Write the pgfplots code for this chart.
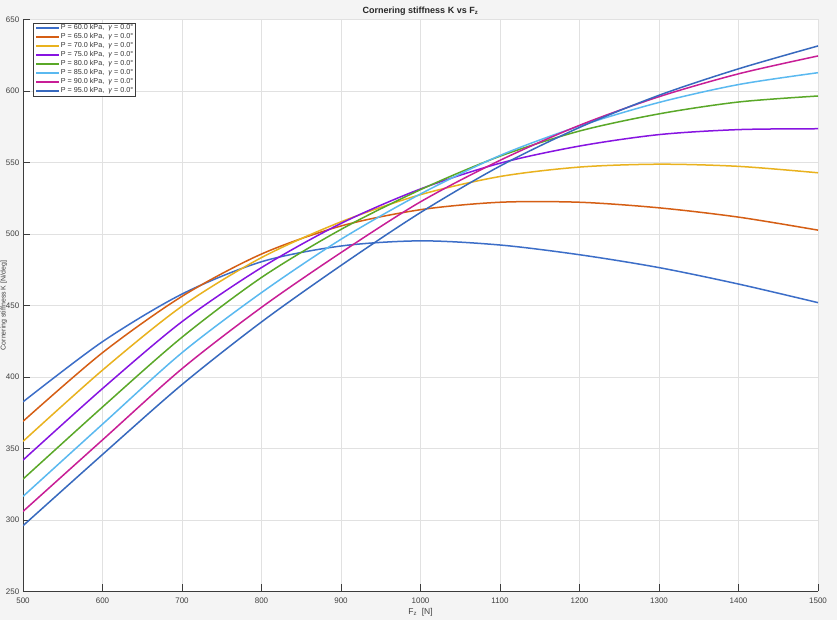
\documentclass[border=0pt]{standalone}
\usepackage{pgfplots}
\pgfplotsset{compat=1.18}
\usepackage{fontspec}
\setmainfont{Liberation Sans}

\definecolor{figbg}{RGB}{244,244,244}
\definecolor{gridc}{RGB}{225,225,225}
\definecolor{axc}{RGB}{60,60,60}
\definecolor{c60}{RGB}{60,110,200}
\definecolor{c65}{RGB}{213,94,20}
\definecolor{c70}{RGB}{233,178,30}
\definecolor{c75}{RGB}{135,20,225}
\definecolor{c80}{RGB}{90,168,40}
\definecolor{c85}{RGB}{90,185,240}
\definecolor{c90}{RGB}{200,30,150}
\definecolor{c95}{RGB}{55,105,190}

\newcommand{\lab}[1]{P = #1 kPa,\ \ \textit{γ} = 0.0°}

\begin{document}
\begin{tikzpicture}[x=1pt,y=1pt]
\path[use as bounding box, fill=figbg] (0,0) rectangle (837,620);
\begin{axis}[
  at={(23pt,28.5pt)}, anchor=south west,
  scale only axis, width=795pt, height=572pt,
  xmin=500, xmax=1500, ymin=250, ymax=650,
  xtick={500,600,...,1500}, ytick={250,300,...,650},
  axis x line*=bottom, axis y line*=left,
  axis line style={-, draw=axc, line width=0.8pt},
  axis background/.style={fill=white},
  tick align=inside, major tick length=7pt,
  tick style={draw=axc, line width=0.8pt},
  grid=major, major grid style={draw=gridc, line width=0.6pt},
  ticklabel style={font=\fontsize{8}{9}\selectfont, text=black!75},
  xticklabel style={anchor=base, inner sep=0pt, yshift=-11.8pt},
  yticklabel style={anchor=east, inner sep=0pt, xshift=-3.5pt},
  /pgf/number format/assume math mode=true,
  /pgf/number format/1000 sep={},
  xlabel={F\textsubscript{z}\ \ [N]},
  xlabel style={at={(0.5,0)}, anchor=base, inner sep=0pt, yshift=-23.5pt,
    font=\fontsize{8.5}{10}\selectfont, text=black!75},
  legend cell align=left,
  legend image code/.code={\draw[#1, line width=1.6pt] (0pt,0pt) -- (23pt,0pt);},
  legend style={at={(0.013,0.9944)}, anchor=north west,
    draw=axc, line width=0.8pt, fill=white,
    inner xsep=1.5pt, inner ysep=0.5pt, row sep=0pt,
    font=\fontsize{7.2}{8}\selectfont, text=black!80,
    nodes={inner xsep=1pt, inner ysep=1.1pt, text height=5.2pt, text depth=1.6pt}},
  every axis plot/.append style={line width=1.5pt, smooth},
]
\addplot[c60] coordinates {(500,382.6) (600,424.7) (700,458.0) (800,480.6) (900,491.6) (1000,495.2) (1100,492.3) (1200,485.5) (1300,476.5) (1400,465.0) (1500,452.0)};
\addlegendentry{\lab{60.0}}
\addplot[c65] coordinates {(500,369.0) (600,417.0) (700,456.4) (800,486.0) (900,505.6) (1000,517.0) (1100,522.2) (1200,522.2) (1300,518.3) (1400,511.8) (1500,502.7)};
\addlegendentry{\lab{65.0}}
\addplot[c70] coordinates {(500,355.0) (600,404.8) (700,449.5) (800,483.5) (900,508.5) (1000,527.5) (1100,540.2) (1200,546.8) (1300,548.8) (1400,547.3) (1500,542.8)};
\addlegendentry{\lab{70.0}}
\addplot[c75] coordinates {(500,341.9) (600,391.9) (700,438.7) (800,476.5) (900,507.4) (1000,531.5) (1100,549.5) (1200,561.5) (1300,569.5) (1400,573.0) (1500,573.6)};
\addlegendentry{\lab{75.0}}
\addplot[c80] coordinates {(500,328.6) (600,379.0) (700,427.8) (800,469.6) (900,503.2) (1000,531.0) (1100,554.4) (1200,572.0) (1300,584.0) (1400,592.3) (1500,596.5)};
\addlegendentry{\lab{80.0}}
\addplot[c85] coordinates {(500,316.5) (600,367.0) (700,417.0) (800,459.0) (900,496.3) (1000,528.0) (1100,554.9) (1200,575.5) (1300,592.0) (1400,604.5) (1500,612.8)};
\addlegendentry{\lab{85.0}}
\addplot[c90] coordinates {(500,306.0) (600,356.0) (700,405.8) (800,448.7) (900,487.0) (1000,522.5) (1100,551.5) (1200,576.0) (1300,596.0) (1400,612.0) (1500,624.5)};
\addlegendentry{\lab{90.0}}
\addplot[c95] coordinates {(500,296.0) (600,345.8) (700,394.7) (800,438.5) (900,478.0) (1000,515.0) (1100,547.5) (1200,574.5) (1300,597.0) (1400,615.5) (1500,631.5)};
\addlegendentry{\lab{95.0}}
\end{axis}
% title and y label, placed in page points
\node[anchor=base, inner sep=0pt, font=\bfseries\fontsize{9}{10}\selectfont, text=black!85]
  at (420.5,606) {Cornering stiffness K vs F\textsubscript{z}};
\node[rotate=90, anchor=base, inner sep=0pt, font=\fontsize{7}{8.5}\selectfont, text=black!75]
  at (5.5,314.5) {Cornering stiffness K [N/deg]};
\end{tikzpicture}
\end{document}
